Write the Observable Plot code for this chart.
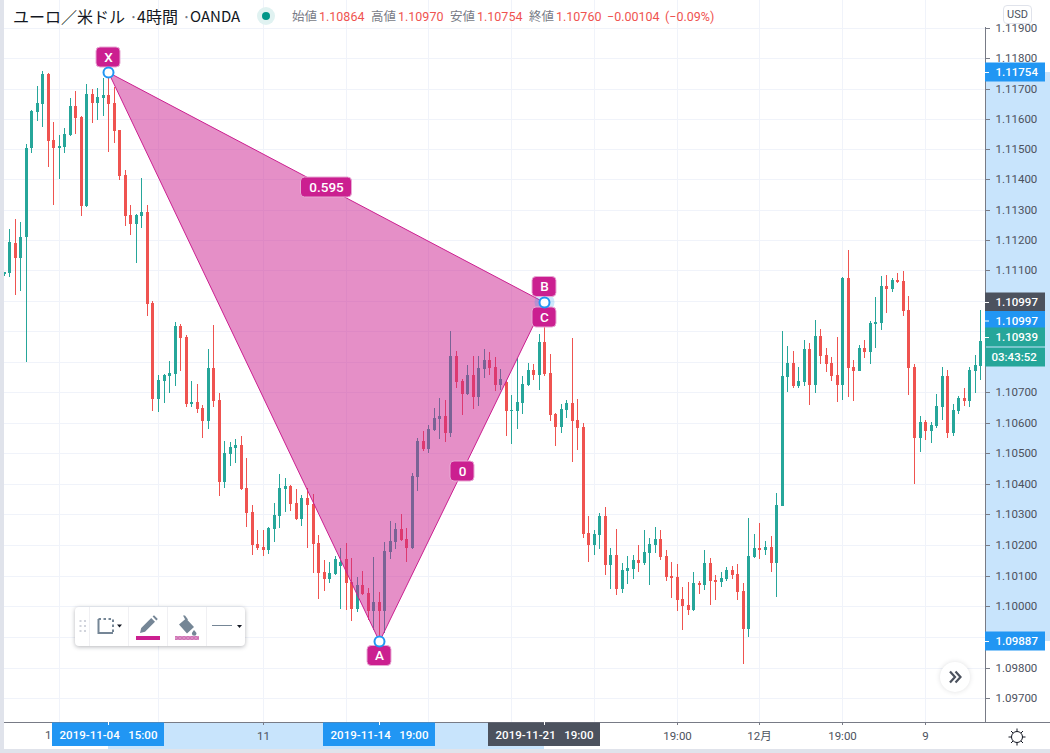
<!DOCTYPE html>
<html lang="ja">
<head>
<meta charset="utf-8">
<title>ユーロ／米ドル 4時間</title>
<script src="https://cdn.jsdelivr.net/npm/d3@7"></script>
<script src="https://cdn.jsdelivr.net/npm/@observablehq/plot@0.6"></script>
<style>
html,body{margin:0;padding:0;background:#e0e3eb;width:1050px;height:753px;overflow:hidden}
#wrap{position:relative;width:1050px;height:753px;font-family:Roboto,"Noto Sans CJK JP",sans-serif}
#chart{position:absolute;left:4px;top:0;width:1046px;height:749px;background:#fff}
#chart svg{display:block}
.abs{position:absolute;white-space:nowrap}
.abs svg{display:block;position:absolute;left:0;top:0}
.ttl{top:5px;font:16px/22px "Noto Sans CJK JP",sans-serif;color:#131722}
.ttl.sm{font-size:15px}
.ttl.s{color:#787b86}
.leg{top:8px;font:12.5px/17px Roboto,"Noto Sans CJK JP",sans-serif}
#usd{left:1003px;top:5px;width:27px;height:17px;border:1px solid #e0e3eb;border-radius:4px;background:#fff;color:#4c525e;font:11px/17px Roboto,sans-serif;text-align:center}
#toolbar{left:75px;top:607px;width:170px;height:39px;background:#fff;border-radius:4px;box-shadow:0 1px 4px rgba(42,46,57,.35)}
#next{left:940px;top:662px;width:30px;height:30px;border-radius:50%;background:#fff;box-shadow:0 0 5px rgba(42,46,57,.15)}
</style>
</head>
<body>
<div id="wrap">
  <div id="chart"></div>
  <svg class="abs" style="left:255px;top:5px" width="22" height="22"><circle cx="11" cy="11" r="9" fill="#e0f2f1"/><circle cx="11" cy="11" r="4" fill="#009688"/></svg>
  <div class="abs" id="usd">USD</div>
  <div class="abs" id="toolbar">
    <svg width="170" height="39">
      <defs><pattern id="hatch" width="4" height="4" patternUnits="userSpaceOnUse"><rect width="4" height="4" fill="#d98cc3"/><rect width="2" height="2" fill="#cf74b5"/><rect x="2" y="2" width="2" height="2" fill="#cf74b5"/></pattern></defs>
      <g fill="#d1d4dc"><rect x="4.5" y="13" width="2" height="2"/><rect x="9" y="13" width="2" height="2"/><rect x="4.5" y="18" width="2" height="2"/><rect x="9" y="18" width="2" height="2"/><rect x="4.5" y="23" width="2" height="2"/><rect x="9" y="23" width="2" height="2"/></g>
      <g stroke="#f0f0f3"><path d="M14.5 0V39M53.5 0V39M92.5 0V39M131.5 0V39"/></g>
      <path d="M23.5 12V26H38" fill="none" stroke="#758696" stroke-width="2"/>
      <path d="M23.5 12H38V26" fill="none" stroke="#758696" stroke-width="2" stroke-dasharray="2.5 2.5"/>
      <path d="M42 17.5h5l-2.5 3z" fill="#131722"/>
      <path d="M65 26l1.2-5 10-10 3.8 3.8-10 10zM77.6 9.6l1.4-1.4 3.8 3.8-1.4 1.4z" fill="#758696"/>
      <rect x="61" y="29" width="24" height="4" fill="#cb1f90"/>
      <path d="M104 17.5l7-6 8 8.5-7 6.5zM108 8.5l2 0 3 4-2 1.5z" fill="#758696"/>
      <path d="M119 23c1.2 1.5 2.5 2.4 2.5 3.4a2.3 2.3 0 0 1-4.6 0c0-1 1.1-1.9 2.1-3.4z" fill="#758696"/>
      <rect x="100" y="29" width="24" height="4" fill="url(#hatch)"/>
      <path d="M137 18.5H157" stroke="#758696"/>
      <path d="M162 18h5l-2.5 3z" fill="#131722"/>
    </svg>
  </div>
  <div class="abs" id="next">
    <svg width="30" height="30"><path d="M10 9.5l5 5.5-5 5.5M15.5 9.5l5 5.5-5 5.5" fill="none" stroke="#4c525e" stroke-width="2.2"/></svg>
  </div>
  <svg class="abs" style="left:1005px;top:725px" width="24" height="24"><circle cx="12" cy="12" r="5.5" fill="none" stroke="#131722"/><path d="M12 3.5v3M12 17.5v3M3.5 12h3M17.5 12h3M6 6l2 2M16 16l2 2M6 18l2-2M16 8l2-2" stroke="#131722" stroke-width="1"/></svg>
</div>
<script>
// Candle prices in units of 0.00001.
const opens = [
111088,111093,111192,111141,111209,111504,111623,111649,111750,111529,
111504,111506,111547,111642,111606,111312,111681,111652,111668,111678,
111652,111562,111414,111282,111253,111279,111292,110993,110678,110737,
110753,110760,110918,110882,110662,110668,110648,110606,110780,110675,
110406,110497,110517,110527,110387,110308,110203,110193,110182,110252,
110295,110384,110393,110337,110285,110354,110334,110206,110112,110089,
110105,110132,110155,110079,109992,110069,110043,109985,110014,109985,
110178,110210,110252,110219,110191,110422,110540,110514,110576,110612,
110622,110566,110819,110737,110694,110757,110685,110777,110806,110783,
110724,110734,110639,110639,110665,110724,110773,110757,110865,110763,
110629,110586,110642,110665,110609,110586,110239,110200,110233,110295,
110135,110168,110056,110115,110122,110151,110142,110174,110200,110219,
110165,110099,110096,110023,110004,109988,110076,110069,110142,110086,
110079,110089,110119,110105,110050,109926,110161,110191,110184,110194,
110142,110328,110750,110796,110721,110734,110842,110724,110885,110822,
110796,110757,110724,111075,110783,110770,110845,110832,110924,110928,
111049,111039,111069,111065,110970,110783,110550,110602,110573,110589,
110652,110753,110566,110639,110681,110671,110770,110786,110866];
const highs = [
111096,111236,111271,111258,111518,111630,111708,111757,111752,111589,
111546,111570,111668,111691,111609,111717,111698,111701,111737,111754,
111704,111564,111431,111315,111285,111405,111315,111000,110757,110760,
110803,110931,110924,110888,110737,110727,110658,110842,110921,110698,
110540,110537,110547,110557,110484,110331,110249,110249,110260,110337,
110432,110419,110396,110384,110364,110387,110367,110233,110151,110145,
110165,110191,110206,110158,110096,110115,110059,110161,110046,110210,
110278,110272,110301,110255,110435,110550,110573,110593,110648,110681,
110675,110901,110836,110744,110790,110819,110819,110842,110832,110816,
110777,110740,110691,110813,110753,110796,110793,110891,110997,110826,
110632,110662,110675,110878,110678,110599,110295,110249,110305,110324,
110191,110252,110142,110165,110168,110200,110249,110223,110259,110249,
110184,110145,110138,110063,110079,110112,110083,110184,110158,110102,
110112,110128,110132,110138,110076,110288,110236,110272,110213,110229,
110370,110901,110852,110836,110783,110872,110862,110937,110908,110845,
110816,110882,111079,111167,110806,110855,110872,110934,111013,111082,
111085,111075,111092,111098,111016,110793,110622,110609,110602,110694,
110783,110773,110662,110688,110714,110783,110822,110970,110886];
const lows = [
111082,111080,111019,111033,110800,111488,111593,111573,111442,111315,
111401,111488,111545,111549,111280,111309,111586,111595,111609,111491,
111519,111398,111246,111216,111126,111239,110951,110639,110635,110665,
110698,110721,110770,110652,110652,110632,110550,110580,110652,110361,
110387,110458,110468,110380,110260,110166,110184,110165,110171,110211,
110255,110308,110311,110282,110262,110191,110109,110023,110050,110076,
110101,109992,109988,109952,109982,110036,109955,109923,109887,109913,
110155,110188,110212,110145,110188,110377,110507,110501,110574,110547,
110537,110553,110714,110625,110691,110645,110655,110747,110757,110704,
110708,110557,110530,110580,110629,110721,110740,110708,110753,110606,
110524,110566,110616,110471,110511,110223,110145,110168,110188,110102,
110056,110036,110043,110073,110089,110112,110135,110069,110174,110151,
110083,110027,109985,109923,109972,109986,110040,110053,110004,110020,
110063,110083,110089,110020,109811,109900,110158,110155,110168,110112,
110030,110326,110701,110714,110714,110721,110658,110698,110793,110767,
110737,110668,110675,110685,110671,110768,110813,110793,110845,110905,
110960,111029,111059,110951,110691,110399,110504,110543,110534,110583,
110609,110550,110557,110629,110655,110652,110698,110740,110860];
const closes = [
111094,111194,111141,111209,111505,111626,111651,111750,111527,111503,
111510,111549,111642,111604,111312,111681,111652,111671,111678,111648,
111559,111411,111279,111253,111282,111292,110990,110678,110740,110757,
110763,110918,110878,110662,110668,110645,110606,110780,110671,110406,
110501,110520,110527,110384,110306,110200,110190,110182,110255,110298,
110387,110393,110334,110285,110354,110331,110203,110109,110089,110109,
110155,110145,110076,109992,110069,110040,109985,110014,109985,110181,
110213,110252,110216,110191,110425,110540,110514,110580,110616,110622,
110566,110819,110734,110694,110757,110685,110780,110806,110780,110724,
110744,110639,110642,110668,110727,110773,110757,110865,110760,110625,
110586,110645,110665,110606,110583,110236,110200,110236,110295,110135,
110168,110056,110119,110125,110151,110142,110178,110203,110219,110161,
110096,110092,110020,110000,109988,110076,110069,110142,110083,110079,
110092,110119,110102,110046,109926,110165,110191,110184,110194,110142,
110331,110753,110796,110721,110737,110842,110724,110885,110819,110793,
110753,110724,111075,110780,110770,110845,110832,110928,110931,111049,
111039,111069,111062,110967,110780,110550,110602,110573,110592,110655,
110753,110566,110642,110681,110671,110773,110790,110868,110882];

// Axis contents
const priceGrid = d3.range(23).map(k => +(1.119 - k * 0.001).toFixed(3));
const priceHiddenByTags = [1.110, 1.109, 1.108, 1.099];
const timeTicks = [10, 28, 47, 62, 77, 92, 107, 122, 137, 152, 167];
const timeLabels = {47: "11", 122: "19:00", 137: "12月", 152: "19:00", 167: "9"};
const clippedTimeLabel = {i: 10, text: "1"};

// Harmonic pattern pivots (bar index, price)
const pivotBars = {X: 19, A: 68, B: 98, C: 98};
const pivotPrices = {X: 1.11754, A: 1.09887, B: 1.10997, C: 1.10997};
const ratioXB = "0.595";
const ratioAC = "0";

// Header texts
const titleParts = ["ユーロ／米ドル", "·", "4時間", "·", "OANDA"];
const legendNames = ["始値", "高値", "安値", "終値"];
const legendValues = ["1.10864", "1.10970", "1.10754", "1.10760"];
const legendChange = ["−0.00104", "(−0.09%)"];

// Scale extents
const xDomain = [0.0906, 177.87];
const yDomain = [1.096235, 1.119939];
const rightGutter = 65, bottomGutter = 27;

const pink = "#cb1f90", red = "#ef5350", green = "#26a69a", blue = "#2196f3", dark = "#4c525e";
const toPrice = v => v / 1e5;
const bars = d3.range(opens.length);
const colorOf = i => closes[i] >= opens[i] ? green : red;
const [xMin, xMax] = xDomain, [yMin, yMax] = yDomain;

const pivot = k => ({name: k, i: pivotBars[k], p: pivotPrices[k]});
const triangle = ["X", "A", "B", "X"].map(pivot);
const pills = [
  {text: "X", i: pivotBars.X, p: pivotPrices.X, dy: -15, w: 12},
  {text: "A", i: pivotBars.A, p: pivotPrices.A, dy: 14.5, w: 12},
  {text: "B", i: pivotBars.B, p: pivotPrices.B, dy: -15.5, w: 12},
  {text: "C", i: pivotBars.C, p: pivotPrices.C, dy: 15, w: 12},
  {text: ratioXB, i: (pivotBars.X + pivotBars.B) / 2, p: Math.sqrt(pivotPrices.X * pivotPrices.B), dy: 0, w: 25.5},
  {text: ratioAC, i: (pivotBars.A + pivotBars.C) / 2, p: Math.sqrt(pivotPrices.A * pivotPrices.C), dy: 0, w: 12}
];
const priceTags = [
  {text: "1.11754", p: pivotPrices.X, dy: 0, fill: blue, tick: true},
  {text: "1.09887", p: pivotPrices.A, dy: 0, fill: blue, tick: true},
  {text: "1.10997", p: pivotPrices.B, dy: 0, fill: dark, tick: true},
  {text: "1.10997", p: pivotPrices.B, dy: 18.5, fill: blue, tick: true},
  {text: "1.10939", p: 1.10939, dy: 18, fill: green, tick: true},
  {text: "03:43:52", p: 1.10939, dy: 38, fill: green, tick: false}
];
const timeTags = [
  {text: "2019-11-04\u00a0\u00a0\u00a015:00", i: pivotBars.X, fill: blue},
  {text: "2019-11-14\u00a0\u00a0\u00a019:00", i: pivotBars.A, fill: blue},
  {text: "2019-11-21\u00a0\u00a0\u00a019:00", i: pivotBars.B, fill: dark}
];

const pillMarks = pills.flatMap(d => [
  Plot.rect([d], {x1: "i", x2: "i", y1: "p", y2: "p", dy: d.dy, insetLeft: -d.w, insetRight: -d.w, insetTop: -10, insetBottom: -10,
    rx: 4, fill: pink, stroke: "#e8a9d4", strokeWidth: 1}),
  Plot.text([d], {x: "i", y: "p", dy: d.dy, text: "text", fill: "#fff", fontSize: 13.5, fontWeight: 500})
]);
const tagMarks = priceTags.flatMap(d => [
  Plot.rect([d], {x1: xMax, x2: xMax, y1: "p", y2: "p", dy: d.dy, insetRight: -60, insetTop: -9.5, insetBottom: -9.5, fill: "fill"}),
  ...(d.tick ? [Plot.ruleY([d], {x1: xMax, x2: xMax, y: "p", dy: d.dy, insetRight: -4, stroke: "#fff"})] : []),
  Plot.text([d], {x: xMax, y: "p", dx: d.tick ? 10 : 6, dy: d.dy, text: "text", fill: "#fff", fontSize: 11.5, fontWeight: 500, textAnchor: "start"})
]);

const plot = Plot.plot({
  width: 1046, height: 749,
  marginLeft: 0, marginTop: 0, marginRight: rightGutter, marginBottom: bottomGutter,
  x: {domain: xDomain, round: true},
  y: {type: "log", domain: yDomain, round: true},
  style: {background: "#fff", fontFamily: 'Roboto,"Noto Sans CJK JP",sans-serif'},
  marks: [
    Plot.gridY(priceGrid, {stroke: "#f0f3fa", strokeOpacity: 1}),
    Plot.gridX(timeTicks, {stroke: "#f0f3fa", strokeOpacity: 1}),
    // candles
    Plot.ruleX(bars, {x: i => i, y1: i => toPrice(lows[i]), y2: i => toPrice(highs[i]), stroke: colorOf, strokeWidth: 1, clip: true}),
    Plot.ruleX(bars, {x: i => i, y1: i => toPrice(opens[i]), y2: i => toPrice(closes[i]), stroke: colorOf, strokeWidth: 3, clip: true}),
    // XABC pattern
    Plot.line(triangle, {x: "i", y: "p", z: null, stroke: pink, strokeWidth: 1, fill: pink, fillOpacity: 0.5}),
    // selection bands in the axes
    Plot.rect([0], {x1: xMax, x2: xMax, y1: pivotPrices.X, y2: pivotPrices.A, insetRight: -rightGutter, fill: "#c8e4fc"}),
    Plot.rect([0], {x1: pivotBars.X, x2: pivotBars.B, y1: yMin, y2: yMin, insetBottom: -bottomGutter, fill: "#c8e4fc"}),
    Plot.axisY({anchor: "right", ticks: priceGrid.filter(d => !priceHiddenByTags.includes(d)), tickFormat: d3.format(".5f"),
      tickSize: 4, tickPadding: 6, label: null, stroke: "#787b86", fill: dark, fontSize: 11.5}),
    Plot.axisX({anchor: "bottom", ticks: timeTicks, tickFormat: d => timeLabels[d] ?? "",
      tickSize: 3, tickPadding: 6, label: null, stroke: "#787b86", fill: dark, fontSize: 11.5}),
    Plot.text([clippedTimeLabel], {x: "i", y: yMin, dx: -8, dy: 13, text: "text", fill: dark, fontSize: 11.5, textAnchor: "end"}),
    Plot.ruleY([yMin], {x1: xMin, x2: xMax, insetRight: -rightGutter, stroke: "#787b86"}),
    Plot.ruleX([xMax], {y1: yMin, y2: yMax, insetBottom: -bottomGutter, stroke: "#787b86"}),
    // tags on the axes
    Plot.rect(timeTags, {x1: "i", x2: "i", y1: yMin, y2: yMin, insetLeft: -56, insetRight: -56, insetTop: 0.5, insetBottom: -24, fill: "fill"}),
    Plot.ruleX(timeTags, {x: "i", y1: yMin, y2: yMin, insetBottom: -3, stroke: "#fff"}),
    Plot.text(timeTags, {x: "i", y: yMin, dy: 13, text: "text", fill: "#fff", fontSize: 11.5, fontWeight: 500}),
    ...tagMarks,
    // pivot pills and handles
    Plot.dot([pivot("B")], {x: "i", y: "p", r: 10, fill: blue, fillOpacity: 0.22}),
    ...pillMarks,
    Plot.dot([pivot("X"), pivot("A"), pivot("B")], {x: "i", y: "p", r: 5, fill: "#fff", stroke: blue, strokeWidth: 2})
  ]
});
document.getElementById("chart").append(plot);

// Header row
const wrap = document.getElementById("wrap");
const add = (cls, left, text, color) => {
  const s = document.createElement("div");
  s.className = "abs " + cls;
  s.style.left = left + "px";
  if (color) s.style.color = color;
  s.textContent = text;
  wrap.append(s);
};
const titleLefts = [13, 129, 137, 182, 190];
titleParts.forEach((t, k) => add("ttl" + (t === "·" ? " s" : t === "OANDA" ? " sm" : ""), titleLefts[k], t));
const nameLefts = [292, 371, 450, 529];
const valueLefts = [319, 398, 477, 556];
legendNames.forEach((t, k) => add("leg", nameLefts[k], t, "#787b86"));
legendValues.forEach((t, k) => add("leg", valueLefts[k], t, red));
const changeLefts = [607, 665];
legendChange.forEach((t, k) => add("leg", changeLefts[k], t, red));
</script>
</body>
</html>
